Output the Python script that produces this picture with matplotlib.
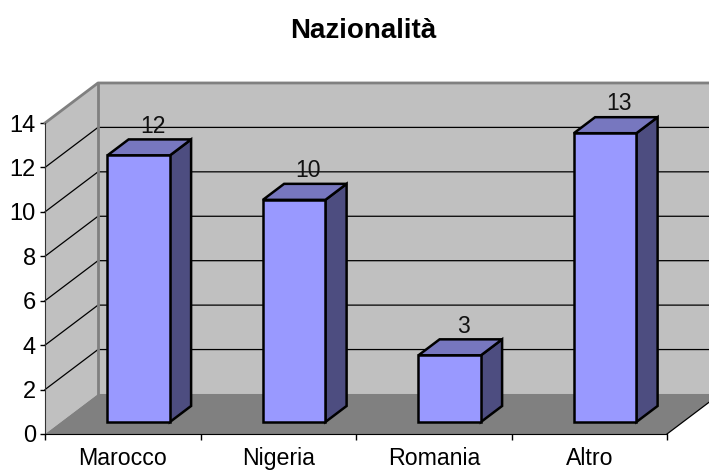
"""
Nazionalita bar chart, drawn with a fake 3D box like the old spreadsheet style.
"""
from matplotlib import pyplot as plt
from matplotlib.patches import Polygon

categories = ['Marocco', 'Nigeria', 'Romania', 'Altro']
values = [12, 10, 3, 13]
y_ticks = [0, 2, 4, 6, 8, 10, 12, 14]

WALL = '#C0C0C0'
FLOOR = '#808080'
BAR_FRONT = '#9999FF'
BAR_TOP = '#7777BF'
BAR_SIDE = '#4D4D80'

# depth of the box in data units (x in categories, y in value units)
DEPTH_X = 53 / 155.5
DEPTH_Y = 40 / 22.2
BAR_WIDTH = 62.5 / 155.5
BAR_NEAR = 0.3
BAR_FAR = 0.7


def shifted(x, y, depth):
    """Move a point of the front plane back into the box."""
    return x + DEPTH_X * depth, y + DEPTH_Y * depth


def poly(ax, points, face, edge='none', lw=0.0, zorder=1):
    ax.add_patch(Polygon(points, closed=True, facecolor=face, edgecolor=edge,
                         linewidth=lw, joinstyle='miter', clip_on=False, zorder=zorder))


def draw_box(ax, n_cats, top):
    # back wall, side wall and floor
    poly(ax, [shifted(0, 0, 1), shifted(n_cats, 0, 1), shifted(n_cats, top, 1), shifted(0, top, 1)],
         WALL)
    poly(ax, [(0, 0), shifted(0, 0, 1), shifted(0, top, 1), (0, top)], WALL)
    poly(ax, [(0, 0), (n_cats, 0), shifted(n_cats, 0, 1), shifted(0, 0, 1)], FLOOR)

    for tick in y_ticks[1:-1]:
        ax.plot(*zip((0, tick), shifted(0, tick, 1), shifted(n_cats, tick, 1)),
                color='black', lw=0.9, clip_on=False, zorder=2)

    # thick grey edges of the walls
    ax.plot(*zip((0, top), shifted(0, top, 1), shifted(n_cats, top, 1)),
            color=FLOOR, lw=2, clip_on=False, zorder=3)
    ax.plot(*zip(shifted(0, 0, 1), shifted(0, top, 1)),
            color=FLOOR, lw=2, clip_on=False, zorder=3)
    ax.plot(*zip((n_cats, 0), shifted(n_cats, 0, 1)),
            color='black', lw=0.9, clip_on=False, zorder=3)


def draw_bar(ax, center, value):
    left = center - BAR_WIDTH / 2
    right = center + BAR_WIDTH / 2
    style = dict(edge='black', lw=1.8, zorder=5)
    poly(ax, [shifted(right, 0, BAR_NEAR), shifted(right, 0, BAR_FAR),
              shifted(right, value, BAR_FAR), shifted(right, value, BAR_NEAR)], BAR_SIDE, **style)
    poly(ax, [shifted(left, value, BAR_NEAR), shifted(right, value, BAR_NEAR),
              shifted(right, value, BAR_FAR), shifted(left, value, BAR_FAR)], BAR_TOP, **style)
    poly(ax, [shifted(left, 0, BAR_NEAR), shifted(right, 0, BAR_NEAR),
              shifted(right, value, BAR_NEAR), shifted(left, value, BAR_NEAR)], BAR_FRONT, **style)
    label_x, label_y = shifted(center, value, 0.57)
    ax.text(label_x, label_y + 0.83, str(value), ha='center', va='center',
            fontsize=16.5, color='#111111', zorder=6)


plt.rcParams['font.family'] = ['Liberation Sans', 'DejaVu Sans']
fig = plt.figure(figsize=(7.09, 4.70), dpi=100)
ax = fig.add_axes([45 / 709, 36 / 470, 622 / 709, 311 / 470])
ax.set_xlim(0, len(categories))
ax.set_ylim(0, y_ticks[-1])
ax.patch.set_visible(False)

draw_box(ax, len(categories), y_ticks[-1])
for i, value in enumerate(values):
    draw_bar(ax, i + 0.5, value)

ax.set_yticks(y_ticks)
ax.set_xticks(range(len(categories) + 1))
ax.set_xticklabels([])
ax.set_xticks([i + 0.5 for i in range(len(categories))], categories, minor=True)
ax.tick_params(axis='y', labelsize=17, length=3.5, width=1, pad=3)
ax.tick_params(axis='x', which='major', length=4, width=1)
ax.tick_params(axis='x', which='minor', length=0, labelsize=16.7, pad=9.5)
for side in ['top', 'right']:
    ax.spines[side].set_visible(False)
ax.spines['left'].set_color('#333333')
for side in ['left', 'bottom']:
    ax.spines[side].set_zorder(4)

fig.text(363 / 709, 1 - 30.5 / 470, 'Nazionalità', ha='center', va='center',
         fontsize=20, fontweight='bold')
fig.savefig('out.png', dpi=100)
